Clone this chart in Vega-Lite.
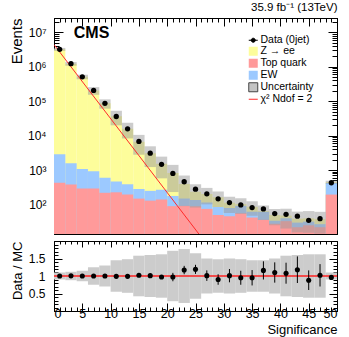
{
  "$schema": "https://vega.github.io/schema/vega-lite/v6.json",
  "padding": {"left": 8, "top": 1, "right": 5, "bottom": 0},
  "spacing": 2,
  "config": {
    "font": "Liberation Sans",
    "view": {"stroke": "black", "strokeWidth": 1},
    "axis": {"domainColor": "black", "tickColor": "black", "labelColor": "black", "titleColor": "black", "grid": false, "labelFont": "Liberation Sans", "titleFont": "Liberation Sans", "titleFontWeight": "normal", "labelFontSize": 12, "labelOverlap": false, "tickWidth": 1}
  },
  "datasets": {
    "bins": [
      {"lo": 0, "hi": 2, "x": 1, "events": 3200000, "mc_lo": 2880000, "mc_hi": 3520000, "ratio": 1.0, "r_lo": 0.997, "r_hi": 1.003, "band_lo": 0.9, "band_hi": 1.1},
      {"lo": 2, "hi": 4, "x": 3, "events": 1230000, "mc_lo": 1074000, "mc_hi": 1366000, "ratio": 1.005, "r_lo": 1.0, "r_hi": 1.01, "band_lo": 0.88, "band_hi": 1.12},
      {"lo": 4, "hi": 6, "x": 5, "events": 510000, "mc_lo": 433500, "mc_hi": 586500, "ratio": 1.0, "r_lo": 0.995, "r_hi": 1.005, "band_lo": 0.85, "band_hi": 1.15},
      {"lo": 6, "hi": 8, "x": 7, "events": 205000, "mc_lo": 153750, "mc_hi": 256250, "ratio": 1.0, "r_lo": 0.99, "r_hi": 1.01, "band_lo": 0.75, "band_hi": 1.25},
      {"lo": 8, "hi": 10, "x": 9, "events": 87000, "mc_lo": 60900, "mc_hi": 113100, "ratio": 1.0, "r_lo": 0.99, "r_hi": 1.01, "band_lo": 0.7, "band_hi": 1.3},
      {"lo": 10, "hi": 12, "x": 11, "events": 36000, "mc_lo": 20020, "mc_hi": 52780, "ratio": 0.99, "r_lo": 0.98, "r_hi": 1.0, "band_lo": 0.55, "band_hi": 1.45},
      {"lo": 12, "hi": 14, "x": 13, "events": 15800, "mc_lo": 8320, "mc_hi": 23680, "ratio": 0.99, "r_lo": 0.975, "r_hi": 1.005, "band_lo": 0.52, "band_hi": 1.48},
      {"lo": 14, "hi": 16, "x": 15, "events": 6800, "mc_lo": 2801, "mc_hi": 10539, "ratio": 1.02, "r_lo": 1.0, "r_hi": 1.04, "band_lo": 0.42, "band_hi": 1.58},
      {"lo": 16, "hi": 18, "x": 17, "events": 3100, "mc_lo": 1228, "mc_hi": 4912, "ratio": 1.01, "r_lo": 0.98, "r_hi": 1.04, "band_lo": 0.4, "band_hi": 1.6},
      {"lo": 18, "hi": 20, "x": 19, "events": 1470, "mc_lo": 578, "mc_hi": 2462, "ratio": 0.97, "r_lo": 0.93, "r_hi": 1.01, "band_lo": 0.38, "band_hi": 1.62},
      {"lo": 20, "hi": 22, "x": 21, "events": 800, "mc_lo": 231, "mc_hi": 1419, "ratio": 0.97, "r_lo": 0.85, "r_hi": 1.09, "band_lo": 0.28, "band_hi": 1.72},
      {"lo": 22, "hi": 24, "x": 23, "events": 460, "mc_lo": 90, "mc_hi": 696, "ratio": 1.17, "r_lo": 1.05, "r_hi": 1.29, "band_lo": 0.23, "band_hi": 1.77},
      {"lo": 24, "hi": 26, "x": 25, "events": 280, "mc_lo": 82, "mc_hi": 388, "ratio": 1.19, "r_lo": 1.06, "r_hi": 1.32, "band_lo": 0.35, "band_hi": 1.65},
      {"lo": 26, "hi": 28, "x": 27, "events": 205, "mc_lo": 101.5, "mc_hi": 304.5, "ratio": 1.01, "r_lo": 0.86, "r_hi": 1.16, "band_lo": 0.5, "band_hi": 1.5},
      {"lo": 28, "hi": 30, "x": 29, "events": 147, "mc_lo": 85, "mc_hi": 241, "ratio": 0.9, "r_lo": 0.75, "r_hi": 1.05, "band_lo": 0.52, "band_hi": 1.48},
      {"lo": 30, "hi": 32, "x": 31, "events": 114, "mc_lo": 56.5, "mc_hi": 169.5, "ratio": 1.01, "r_lo": 0.82, "r_hi": 1.2, "band_lo": 0.5, "band_hi": 1.5},
      {"lo": 32, "hi": 34, "x": 33, "events": 98, "mc_lo": 53.6, "mc_hi": 152.4, "ratio": 0.95, "r_lo": 0.75, "r_hi": 1.15, "band_lo": 0.52, "band_hi": 1.48},
      {"lo": 34, "hi": 36, "x": 35, "events": 82, "mc_lo": 47.3, "mc_hi": 124.7, "ratio": 0.95, "r_lo": 0.73, "r_hi": 1.17, "band_lo": 0.55, "band_hi": 1.45},
      {"lo": 36, "hi": 38, "x": 37, "events": 75, "mc_lo": 35.8, "mc_hi": 94.3, "ratio": 1.16, "r_lo": 0.9, "r_hi": 1.42, "band_lo": 0.55, "band_hi": 1.45},
      {"lo": 38, "hi": 40, "x": 39, "events": 55, "mc_lo": 25, "mc_hi": 75, "ratio": 1.1, "r_lo": 0.81, "r_hi": 1.39, "band_lo": 0.5, "band_hi": 1.5},
      {"lo": 40, "hi": 42, "x": 41, "events": 52, "mc_lo": 20.2, "mc_hi": 75.8, "ratio": 1.08, "r_lo": 0.78, "r_hi": 1.38, "band_lo": 0.42, "band_hi": 1.58},
      {"lo": 42, "hi": 44, "x": 43, "events": 46, "mc_lo": 15.6, "mc_hi": 62.4, "ratio": 1.18, "r_lo": 0.8, "r_hi": 1.56, "band_lo": 0.4, "band_hi": 1.6},
      {"lo": 44, "hi": 46, "x": 45, "events": 35, "mc_lo": 15.2, "mc_hi": 64.8, "ratio": 0.88, "r_lo": 0.6, "r_hi": 1.16, "band_lo": 0.38, "band_hi": 1.62},
      {"lo": 46, "hi": 48, "x": 47, "events": 39, "mc_lo": 14.4, "mc_hi": 61.6, "ratio": 1.02, "r_lo": 0.7, "r_hi": 1.34, "band_lo": 0.38, "band_hi": 1.62},
      {"lo": 48, "hi": 50, "x": 49, "events": 430, "mc_lo": 403, "mc_hi": 493, "ratio": 0.96, "r_lo": 0.91, "r_hi": 1.01, "band_lo": 0.9, "band_hi": 1.1}
    ],
    "stack": [
      {"lo": 0, "hi": 2, "proc": "Z → ee", "top": 3200000},
      {"lo": 2, "hi": 4, "proc": "Z → ee", "top": 1220000},
      {"lo": 4, "hi": 6, "proc": "Z → ee", "top": 510000},
      {"lo": 6, "hi": 8, "proc": "Z → ee", "top": 205000},
      {"lo": 8, "hi": 10, "proc": "Z → ee", "top": 87000},
      {"lo": 10, "hi": 12, "proc": "Z → ee", "top": 36400},
      {"lo": 12, "hi": 14, "proc": "Z → ee", "top": 16000},
      {"lo": 14, "hi": 16, "proc": "Z → ee", "top": 6670},
      {"lo": 16, "hi": 18, "proc": "Z → ee", "top": 3070},
      {"lo": 18, "hi": 20, "proc": "Z → ee", "top": 1520},
      {"lo": 20, "hi": 22, "proc": "Z → ee", "top": 825},
      {"lo": 22, "hi": 24, "proc": "Z → ee", "top": 393},
      {"lo": 24, "hi": 26, "proc": "Z → ee", "top": 235},
      {"lo": 26, "hi": 28, "proc": "Z → ee", "top": 203},
      {"lo": 28, "hi": 30, "proc": "Z → ee", "top": 163},
      {"lo": 30, "hi": 32, "proc": "Z → ee", "top": 113},
      {"lo": 32, "hi": 34, "proc": "Z → ee", "top": 103},
      {"lo": 34, "hi": 36, "proc": "Z → ee", "top": 86},
      {"lo": 36, "hi": 38, "proc": "Z → ee", "top": 65},
      {"lo": 38, "hi": 40, "proc": "Z → ee", "top": 50},
      {"lo": 40, "hi": 42, "proc": "Z → ee", "top": 48},
      {"lo": 42, "hi": 44, "proc": "Z → ee", "top": 39},
      {"lo": 44, "hi": 46, "proc": "Z → ee", "top": 40},
      {"lo": 46, "hi": 48, "proc": "Z → ee", "top": 38},
      {"lo": 48, "hi": 50, "proc": "Z → ee", "top": 448},
      {"lo": 0, "hi": 2, "proc": "EW", "top": 2900},
      {"lo": 2, "hi": 4, "proc": "EW", "top": 1570},
      {"lo": 4, "hi": 6, "proc": "EW", "top": 1080},
      {"lo": 6, "hi": 8, "proc": "EW", "top": 930},
      {"lo": 8, "hi": 10, "proc": "EW", "top": 600},
      {"lo": 10, "hi": 12, "proc": "EW", "top": 470},
      {"lo": 12, "hi": 14, "proc": "EW", "top": 390},
      {"lo": 14, "hi": 16, "proc": "EW", "top": 285},
      {"lo": 16, "hi": 18, "proc": "EW", "top": 250},
      {"lo": 18, "hi": 20, "proc": "EW", "top": 270},
      {"lo": 20, "hi": 22, "proc": "EW", "top": 178},
      {"lo": 22, "hi": 24, "proc": "EW", "top": 150},
      {"lo": 24, "hi": 26, "proc": "EW", "top": 135},
      {"lo": 26, "hi": 28, "proc": "EW", "top": 115},
      {"lo": 28, "hi": 30, "proc": "EW", "top": 85},
      {"lo": 30, "hi": 32, "proc": "EW", "top": 80},
      {"lo": 32, "hi": 34, "proc": "EW", "top": 92},
      {"lo": 34, "hi": 36, "proc": "EW", "top": 62},
      {"lo": 36, "hi": 38, "proc": "EW", "top": 62},
      {"lo": 38, "hi": 40, "proc": "EW", "top": 34},
      {"lo": 40, "hi": 42, "proc": "EW", "top": 40},
      {"lo": 42, "hi": 44, "proc": "EW", "top": 30},
      {"lo": 44, "hi": 46, "proc": "EW", "top": 32},
      {"lo": 46, "hi": 48, "proc": "EW", "top": 27},
      {"lo": 48, "hi": 50, "proc": "EW", "top": 420},
      {"lo": 0, "hi": 2, "proc": "Top quark", "top": 430},
      {"lo": 2, "hi": 4, "proc": "Top quark", "top": 385},
      {"lo": 4, "hi": 6, "proc": "Top quark", "top": 292},
      {"lo": 6, "hi": 8, "proc": "Top quark", "top": 292},
      {"lo": 8, "hi": 10, "proc": "Top quark", "top": 220},
      {"lo": 10, "hi": 12, "proc": "Top quark", "top": 227},
      {"lo": 12, "hi": 14, "proc": "Top quark", "top": 195},
      {"lo": 14, "hi": 16, "proc": "Top quark", "top": 149},
      {"lo": 16, "hi": 18, "proc": "Top quark", "top": 130},
      {"lo": 18, "hi": 20, "proc": "Top quark", "top": 140},
      {"lo": 20, "hi": 22, "proc": "Top quark", "top": 90},
      {"lo": 22, "hi": 24, "proc": "Top quark", "top": 92},
      {"lo": 24, "hi": 26, "proc": "Top quark", "top": 90},
      {"lo": 26, "hi": 28, "proc": "Top quark", "top": 75},
      {"lo": 28, "hi": 30, "proc": "Top quark", "top": 50},
      {"lo": 30, "hi": 32, "proc": "Top quark", "top": 46},
      {"lo": 32, "hi": 34, "proc": "Top quark", "top": 56},
      {"lo": 34, "hi": 36, "proc": "Top quark", "top": 42},
      {"lo": 36, "hi": 38, "proc": "Top quark", "top": 36},
      {"lo": 38, "hi": 40, "proc": "Top quark", "top": 28},
      {"lo": 40, "hi": 42, "proc": "Top quark", "top": 33},
      {"lo": 42, "hi": 44, "proc": "Top quark", "top": 22},
      {"lo": 44, "hi": 46, "proc": "Top quark", "top": 25},
      {"lo": 46, "hi": 48, "proc": "Top quark", "top": 22},
      {"lo": 48, "hi": 50, "proc": "Top quark", "top": 195}
    ],
    "fit": [
      {"x": 0, "y": 4400000},
      {"x": 25.6, "y": 14}
    ]
  },
  "vconcat": [
    {
      "width": 283,
      "height": 216,
      "title": {"text": "35.9 fb⁻¹ (13TeV)", "anchor": "end", "fontSize": 11.5, "fontWeight": "normal", "offset": 2, "font": "Liberation Sans", "color": "black"},
      "resolve": {"axis": {"x": "independent", "y": "independent"}},
      "layer": [
        {
          "data": {"name": "stack"},
          "mark": {"type": "rect", "clip": true},
          "encoding": {
            "x": {"field": "lo", "type": "quantitative", "scale": {"domain": [0, 50], "nice": false},
              "axis": {"orient": "bottom", "values": [0,1,2,3,4,5,6,7,8,9,10,11,12,13,14,15,16,17,18,19,20,21,22,23,24,25,26,27,28,29,30,31,32,33,34,35,36,37,38,39,40,41,42,43,44,45,46,47,48,49,50], "labels": false, "title": null,
                "tickSize": {"condition": {"test": "datum.value % 5 == 0", "value": -8}, "value": -4}}},
            "x2": {"field": "hi"},
            "y": {"field": "top", "type": "quantitative", "scale": {"type": "log", "domain": [14, 26000000], "nice": false},
              "axis": {"orient": "left", "values": [20,30,40,50,60,70,80,90,100,200,300,400,500,600,700,800,900,1000,2000,3000,4000,5000,6000,7000,8000,9000,10000,20000,30000,40000,50000,60000,70000,80000,90000,100000,200000,300000,400000,500000,600000,700000,800000,900000,1000000,2000000,3000000,4000000,5000000,6000000,7000000,8000000,9000000,10000000,20000000],
                "labelExpr": "datum.value == 100 ? '10²' : datum.value == 1000 ? '10³' : datum.value == 10000 ? '10⁴' : datum.value == 100000 ? '10⁵' : datum.value == 1000000 ? '10⁶' : datum.value == 10000000 ? '10⁷' : ''",
                "tickSize": {"condition": {"test": "indexof([100,1000,10000,100000,1000000,10000000], datum.value) >= 0", "value": -9}, "value": -5},
                "labelPadding": 17, "labelFontSize": 12,
                "title": "Events", "titleAnchor": "end", "titleFontSize": 15, "titleX": -30}},
            "y2": {"datum": 1},
            "color": {"field": "proc", "type": "nominal",
              "scale": {"domain": ["Data (0jet)", "Z → ee", "Top quark", "EW", "Uncertainty", "χ² Ndof = 2"], "range": ["black", "#fdfd9b", "#ff9a9a", "#9cc9ff", "#c4c4c4", "#ff2a2a"]},
              "legend": {"orient": "none", "legendX": 194, "legendY": 17, "title": null, "padding": 0,
                "labelFont": "Liberation Sans", "labelFontSize": 10.5, "labelColor": "black", "labelOffset": 2,
                "symbolSize": 81, "rowPadding": -2.4, "symbolStrokeWidth": 1,
                "encode": {"symbols": {"update": {
                  "shape": {"signal": "datum.value == 'Data (0jet)' ? 'M-1,0H1M0.45,0A0.45,0.45,0,1,1,-0.45,0A0.45,0.45,0,1,1,0.45,0Z' : datum.value == 'χ² Ndof = 2' ? 'stroke' : 'square'"},
                  "stroke": {"signal": "datum.value == 'Data (0jet)' ? 'black' : datum.value == 'Uncertainty' ? '#444444' : datum.value == 'χ² Ndof = 2' ? '#ff2a2a' : 'transparent'"},
                  "strokeWidth": {"value": 1}
                }}}}}
          }
        },
        {
          "data": {"name": "bins"},
          "mark": {"type": "rect", "fill": "#999999", "opacity": 0.5, "clip": true},
          "encoding": {
            "x": {"field": "lo", "type": "quantitative", "axis": null},
            "x2": {"field": "hi"},
            "y": {"field": "mc_lo", "type": "quantitative", "axis": null},
            "y2": {"field": "mc_hi"}
          }
        },
        {
          "data": {"name": "fit"},
          "mark": {"type": "line", "color": "#ff2a2a", "strokeWidth": 1, "clip": true},
          "encoding": {
            "x": {"field": "x", "type": "quantitative",
              "axis": {"orient": "top", "values": [0,1,2,3,4,5,6,7,8,9,10,11,12,13,14,15,16,17,18,19,20,21,22,23,24,25,26,27,28,29,30,31,32,33,34,35,36,37,38,39,40,41,42,43,44,45,46,47,48,49,50], "labels": false, "title": null,
                "tickSize": {"condition": {"test": "datum.value % 5 == 0", "value": -8}, "value": -4}}},
            "y": {"field": "y", "type": "quantitative",
              "axis": {"orient": "right", "values": [20,30,40,50,60,70,80,90,100,200,300,400,500,600,700,800,900,1000,2000,3000,4000,5000,6000,7000,8000,9000,10000,20000,30000,40000,50000,60000,70000,80000,90000,100000,200000,300000,400000,500000,600000,700000,800000,900000,1000000,2000000,3000000,4000000,5000000,6000000,7000000,8000000,9000000,10000000,20000000], "labels": false, "title": null,
                "tickSize": {"condition": {"test": "indexof([100,1000,10000,100000,1000000,10000000], datum.value) >= 0", "value": -9}, "value": -5}}}
          }
        },
        {
          "data": {"name": "bins"},
          "mark": {"type": "point", "filled": true, "shape": "circle", "size": 28, "color": "black", "opacity": 1},
          "encoding": {
            "x": {"field": "x", "type": "quantitative", "axis": null},
            "y": {"field": "events", "type": "quantitative", "axis": null}
          }
        },
        {
          "data": {"values": [{}]},
          "mark": {"type": "text", "text": "CMS", "fontSize": 16, "fontWeight": "bold", "align": "left", "baseline": "alphabetic", "font": "Liberation Sans", "color": "black"},
          "encoding": {
            "x": {"datum": 3.5, "type": "quantitative", "axis": null},
            "y": {"datum": 7000000, "type": "quantitative", "axis": null}
          }
        }
      ]
    },
    {
      "width": 283,
      "height": 70,
      "resolve": {"axis": {"x": "independent", "y": "independent"}},
      "layer": [
        {
          "data": {"name": "bins"},
          "mark": {"type": "rect", "fill": "#cccccc"},
          "encoding": {
            "x": {"field": "lo", "type": "quantitative", "scale": {"domain": [0, 50], "nice": false},
              "axis": {"orient": "bottom", "values": [0,1,2,3,4,5,6,7,8,9,10,11,12,13,14,15,16,17,18,19,20,21,22,23,24,25,26,27,28,29,30,31,32,33,34,35,36,37,38,39,40,41,42,43,44,45,46,47,48,49,50],
                "labelExpr": "datum.value % 5 == 0 ? datum.label : ''", "labelFontSize": 12.5, "labelPadding": 4,
                "tickSize": {"condition": {"test": "datum.value % 5 == 0", "value": -8}, "value": -4},
                "title": "Significance", "titleAnchor": "end", "titleFontSize": 13, "titlePadding": 0}},
            "x2": {"field": "hi"},
            "y": {"field": "band_lo", "type": "quantitative", "scale": {"domain": [0, 2], "nice": false},
              "axis": {"orient": "left", "values": [0.1,0.2,0.3,0.4,0.5,0.6,0.7,0.8,0.9,1,1.1,1.2,1.3,1.4,1.5,1.6,1.7,1.8,1.9],
                "labelExpr": "datum.value == 0.5 ? '0.5' : datum.value == 1 ? '1' : datum.value == 1.5 ? '1.5' : ''",
                "tickSize": {"condition": {"test": "datum.value == 0.5 || datum.value == 1 || datum.value == 1.5", "value": -8}, "value": -4},
                "labelPadding": 17, "labelFontSize": 12,
                "title": "Data / MC", "titleAnchor": "end", "titleFontSize": 13, "titleX": -30}},
            "y2": {"field": "band_hi"}
          }
        },
        {
          "data": {"values": [{}]},
          "mark": {"type": "rule", "color": "#ff2020", "strokeWidth": 1.5},
          "encoding": {
            "y": {"datum": 1, "type": "quantitative", "axis": null}
          }
        },
        {
          "data": {"name": "bins"},
          "mark": {"type": "rule", "color": "black", "strokeWidth": 1},
          "encoding": {
            "x": {"field": "x", "type": "quantitative",
              "axis": {"orient": "top", "values": [0,1,2,3,4,5,6,7,8,9,10,11,12,13,14,15,16,17,18,19,20,21,22,23,24,25,26,27,28,29,30,31,32,33,34,35,36,37,38,39,40,41,42,43,44,45,46,47,48,49,50], "labels": false, "title": null,
                "tickSize": {"condition": {"test": "datum.value % 5 == 0", "value": -6}, "value": -3}}},
            "y": {"field": "r_lo", "type": "quantitative",
              "axis": {"orient": "right", "values": [0.1,0.2,0.3,0.4,0.5,0.6,0.7,0.8,0.9,1,1.1,1.2,1.3,1.4,1.5,1.6,1.7,1.8,1.9], "labels": false, "title": null,
                "tickSize": {"condition": {"test": "datum.value == 0.5 || datum.value == 1 || datum.value == 1.5", "value": -8}, "value": -4}}},
            "y2": {"field": "r_hi"}
          }
        },
        {
          "data": {"name": "bins"},
          "mark": {"type": "point", "filled": true, "shape": "circle", "size": 26, "color": "black", "opacity": 1},
          "encoding": {
            "x": {"field": "x", "type": "quantitative", "axis": null},
            "y": {"field": "ratio", "type": "quantitative", "axis": null}
          }
        }
      ]
    }
  ]
}
